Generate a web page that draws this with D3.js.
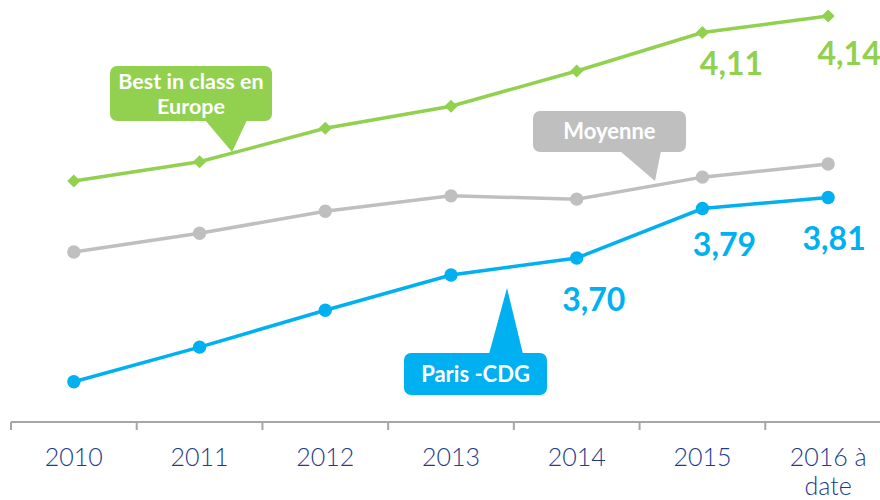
<!DOCTYPE html>
<html>
<head>
<meta charset="utf-8">
<script src="https://cdn.jsdelivr.net/npm/d3@7"></script>
<style>
  body{margin:0;background:#fff;}
  svg{display:block;}
</style>
</head>
<body>
<div id="chart"></div>
<script>
let chart_width = 880;
let chart_height = 500;

let years = ['2010','2011','2012','2013','2014','2015','2016 à date'];
let best_values = [3.84,3.875,3.936,3.976,4.04,4.11,4.14];
let avg_values = [3.711,3.745,3.785,3.813,3.807,3.847,3.871];
let cdg_values = [3.475,3.538,3.605,3.669,3.70,3.79,3.81];

// labelled points: [series, index, text]
let value_labels = [
    ['best',5,'4,11'],
    ['best',6,'4,14'],
    ['cdg',4,'3,70'],
    ['cdg',5,'3,79'],
    ['cdg',6,'3,81']
];

const green = '#92D050';
const grey = '#BFBFBF';
const blue = '#00B0F0';
const axis_text = '#203A8C';

let svg = d3.select('#chart')
    .append('svg')
    .attr('width',chart_width)
    .attr('height',chart_height);

const xScale = d3.scaleBand().domain(years).range([11,891]);
const yScale = d3.scaleLinear().domain([3.70,4.14]).range([258,16]);
const xc = d => xScale(d) + xScale.bandwidth()/2;

// axis
const axisY = 422;
svg.append('line')
    .attr('x1',11).attr('x2',chart_width)
    .attr('y1',axisY).attr('y2',axisY)
    .attr('stroke','#A6A6A6').attr('stroke-width',2);

svg.append('g')
    .selectAll('line')
    .data(years)
    .enter()
    .append('line')
    .attr('x1',d=>xScale(d)).attr('x2',d=>xScale(d))
    .attr('y1',axisY).attr('y2',axisY+8)
    .attr('stroke','#A6A6A6').attr('stroke-width',2);

let xAxis = svg.append('g')
    .attr('transform','translate(0,'+axisY+')')
    .call(d3.axisBottom(xScale).tickSize(0).tickPadding(0));
xAxis.select('.domain').remove();
xAxis.selectAll('text').remove();
xAxis.selectAll('.tick').each(function(d){
    let parts = d === '2016 à date' ? ['2016 à','date'] : [d];
    let t = d3.select(this).append('text')
        .attr('fill',axis_text)
        .attr('text-anchor','middle')
        .style('font-family','Lato, "Noto Sans", sans-serif')
        .style('font-weight','300')
        .style('font-size','25px');
    parts.forEach(function(p,i){
        t.append('tspan').attr('x',0).attr('y',44 + i*29).text(p);
    });
});

// lines
function drawSeries(values,color,marker){
    let data = years.map((y,i)=>({'year':y,'v':values[i]}));
    let line = d3.line().x(d=>xc(d.year)).y(d=>yScale(d.v));
    let g = svg.append('g');
    g.append('path')
        .datum(data)
        .attr('d',line)
        .attr('fill','none')
        .attr('stroke',color)
        .attr('stroke-width',3.5);
    g.selectAll('path.marker')
        .data(data)
        .enter()
        .append('path')
        .attr('class','marker')
        .attr('transform',d=>'translate('+xc(d.year)+','+yScale(d.v)+')')
        .attr('d',d3.symbol().type(marker==='diamond'?d3.symbolDiamond2:d3.symbolCircle).size(marker==='diamond'?110:140)())
        .attr('fill',color);
}

drawSeries(avg_values,grey,'circle');
drawSeries(best_values,green,'diamond');
drawSeries(cdg_values,blue,'circle');

// value labels
const series_map = {'best':[best_values,green],'cdg':[cdg_values,blue]};
const label_offset = {'best':[[5,42],[6,49]],'cdg':[[4,53],[5,47],[6,52]]};
value_labels.forEach(function(l){
    let vals = series_map[l[0]][0];
    let off = label_offset[l[0]].find(o=>o[0]===l[1])[1];
    let dx = 0;
    if(l[0]==='best' && l[1]===5) dx = 29;
    if(l[0]==='best' && l[1]===6) dx = 21;
    if(l[0]==='cdg' && l[1]===4) dx = 17;
    if(l[0]==='cdg' && l[1]===5) dx = 22;
    if(l[0]==='cdg' && l[1]===6) dx = 6;
    svg.append('text')
        .attr('x',xc(years[l[1]])+dx)
        .attr('y',yScale(vals[l[1]])+off)
        .attr('text-anchor','middle')
        .attr('fill',series_map[l[0]][1])
        .style('font-family','Lato, "Noto Sans", sans-serif')
        .style('font-weight','bold')
        .style('font-size','32px')
        .text(l[2]);
});

// callouts
function callout(box,pointer,color,lines,fontSize,lineGap){
    let g = svg.append('g');
    g.append('rect')
        .attr('x',box[0]).attr('y',box[1])
        .attr('width',box[2]).attr('height',box[3])
        .attr('rx',7)
        .attr('fill',color);
    g.append('polygon')
        .attr('points',pointer.map(p=>p.join(',')).join(' '))
        .attr('fill',color);
    let cx = box[0]+box[2]/2;
    let startY = box[1]+box[3]/2 - (lines.length-1)*lineGap/2 + fontSize*0.36;
    lines.forEach(function(t,i){
        g.append('text')
            .attr('x',cx)
            .attr('y',startY+i*lineGap)
            .attr('text-anchor','middle')
            .attr('fill','#fff')
            .style('font-family','Lato, "Noto Sans", sans-serif')
            .style('font-weight','bold')
            .style('font-size',fontSize+'px')
            .text(t);
    });
}

callout([110,66,162,55],[[205,120],[247,120],[232,152]],green,['Best in class en','Europe'],21.5,25);
callout([533,111,153,41],[[620,151],[661,151],[655,181]],grey,['Moyenne'],22,0);
callout([404,353,143,42],[[489,354],[523,354],[507,288]],blue,['Paris -CDG'],22,0);
</script>
</body>
</html>
